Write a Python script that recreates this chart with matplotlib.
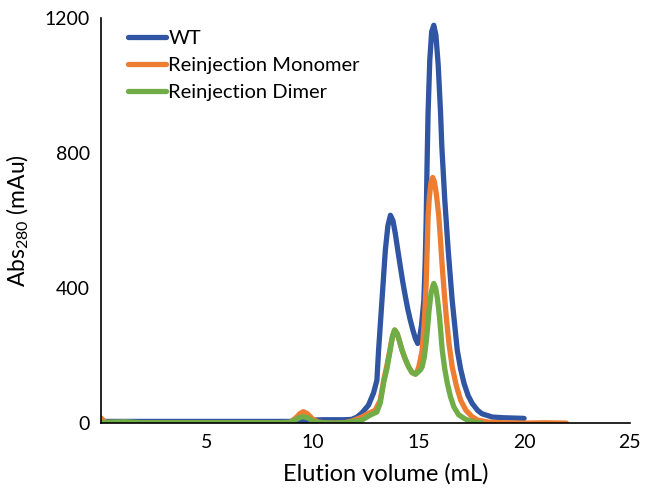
import matplotlib
matplotlib.use("Agg")
import matplotlib.pyplot as plt

plt.rcParams['font.family'] = ['Lato', 'DejaVu Sans']
plt.rcParams['mathtext.default'] = 'regular'

# ---- data ----
wt_x = [0, 2, 4, 6, 8, 9, 9.5, 10, 10.5, 11, 11.5, 11.85, 12.1, 12.33, 12.64,
        12.88, 13.04, 13.12, 13.28, 13.44, 13.56, 13.68, 13.8, 13.91, 14.03,
        14.15, 14.27, 14.39, 14.5, 14.62, 14.74, 14.86, 14.97, 15.05, 15.15,
        15.26, 15.32, 15.37, 15.41, 15.46, 15.54, 15.63, 15.73, 15.83, 15.94,
        16.05, 16.11, 16.25, 16.41, 16.6, 16.84, 17.0, 17.16, 17.35, 17.55,
        17.8, 18.0, 18.19, 18.5, 19.0, 19.5, 20.0]
wt_y = [5, 5, 5, 5, 5, 5, 7, 9, 10, 10, 10, 11, 18, 30, 53,
        89, 127, 216, 364, 513, 585, 616, 600, 562, 512,
        463, 416, 374, 338, 305, 276, 251, 236, 250, 290,
        364, 470, 600, 760, 920, 1075, 1160, 1179, 1150, 1060,
        920, 820, 661, 513, 364, 216, 160, 118, 82, 58,
        38, 28, 24, 18, 16, 15, 14]

mono_x = [0, 0.2, 2, 4, 6, 8, 8.93, 9.2, 9.4, 9.56, 9.75, 10.0, 10.27, 10.6,
          11, 11.5, 11.85, 12.33, 12.64, 12.96, 13.2, 13.36, 13.51, 13.67,
          13.78, 13.88, 14.0, 14.1, 14.23, 14.38, 14.54, 14.7, 14.86, 14.95,
          15.02, 15.1, 15.18, 15.28, 15.37, 15.46, 15.52, 15.6, 15.68, 15.76,
          15.85, 15.97, 16.05, 16.13, 16.22, 16.32, 16.45, 16.6, 16.8, 17.0,
          17.25, 17.54, 17.8, 18.3, 19, 20, 21, 22]
mono_y = [15, 2, 1, 1, 1, 1, 2, 15, 28, 34, 28, 12, 3, 1,
          0, 1, 6, 18, 29, 38, 68, 127, 170, 222,
          258, 276, 265, 245, 216, 190, 167, 150, 145, 155,
          167, 190, 216, 300, 414, 611, 670, 715, 728, 715,
          680, 611, 540, 463, 390, 315, 235, 167, 110, 68,
          38, 19, 9, 3, 1, 0, 1, 0]

dimer_x = [0, 1.1, 2, 4, 6, 8, 8.93, 9.2, 9.4, 9.56, 9.75, 10.0, 10.27, 10.6,
           11, 11.5, 11.85, 12.33, 12.73, 13.04, 13.2, 13.36, 13.51, 13.67,
           13.78, 13.88, 14.0, 14.1, 14.23, 14.38, 14.54, 14.7, 14.86, 15.0,
           15.1, 15.18, 15.28, 15.37, 15.44, 15.5, 15.6, 15.68, 15.73, 15.82,
           15.9, 16.0, 16.13, 16.25, 16.37, 16.52, 16.68, 16.9, 17.16, 17.4,
           17.7, 18.0]
dimer_y = [2, 4, 1, 1, 1, 1, 2, 10, 17, 19, 16, 7, 2, 1,
           0, 1, 4, 9, 24, 33, 60, 120, 160, 216,
           258, 276, 265, 245, 216, 190, 167, 150, 145, 152,
           158, 167, 195, 240, 285, 330, 385, 405, 414, 400,
           370, 315, 216, 160, 118, 78, 48, 25, 14, 7,
           3, 0]

series = [("WT", wt_x, wt_y, "#2F55A3"),
          ("Reinjection Monomer", mono_x, mono_y, "#ED7D31"),
          ("Reinjection Dimer", dimer_x, dimer_y, "#70AD47")]

x_ticks = [5, 10, 15, 20, 25]
y_ticks = [0, 400, 800, 1200]

fig = plt.figure(figsize=(6.48, 4.92), dpi=100)
ax = fig.add_axes([0.156, 0.140, 0.816, 0.823])

for name, xs, ys, c in series:
    ax.plot(xs, ys, color=c, lw=3.8, label=name, solid_capstyle='round',
            solid_joinstyle='round')

ax.set_xlim(0, 25)
ax.set_ylim(0, 1200)
ax.set_xticks(x_ticks)
ax.set_yticks(y_ticks)
ax.tick_params(length=0, labelsize=14, pad=8)
for s in ['top', 'right']:
    ax.spines[s].set_visible(False)
for s in ['left', 'bottom']:
    ax.spines[s].set_color('black')
    ax.spines[s].set_linewidth(1.2)
    ax.spines[s].set_zorder(5)

ax.set_xlabel("Elution volume (mL)", fontsize=17)
ax.xaxis.set_label_coords(0.539, -0.098)
ax.set_ylabel("Abs$_{280}$ (mAu)", fontsize=16.5, labelpad=10)

leg = ax.legend(loc='upper left', bbox_to_anchor=(0.035, 0.992), frameon=False,
                fontsize=14.5, handlelength=1.9, handletextpad=0.12,
                labelspacing=0.5, borderaxespad=0)

fig.savefig("out.png", dpi=100)
